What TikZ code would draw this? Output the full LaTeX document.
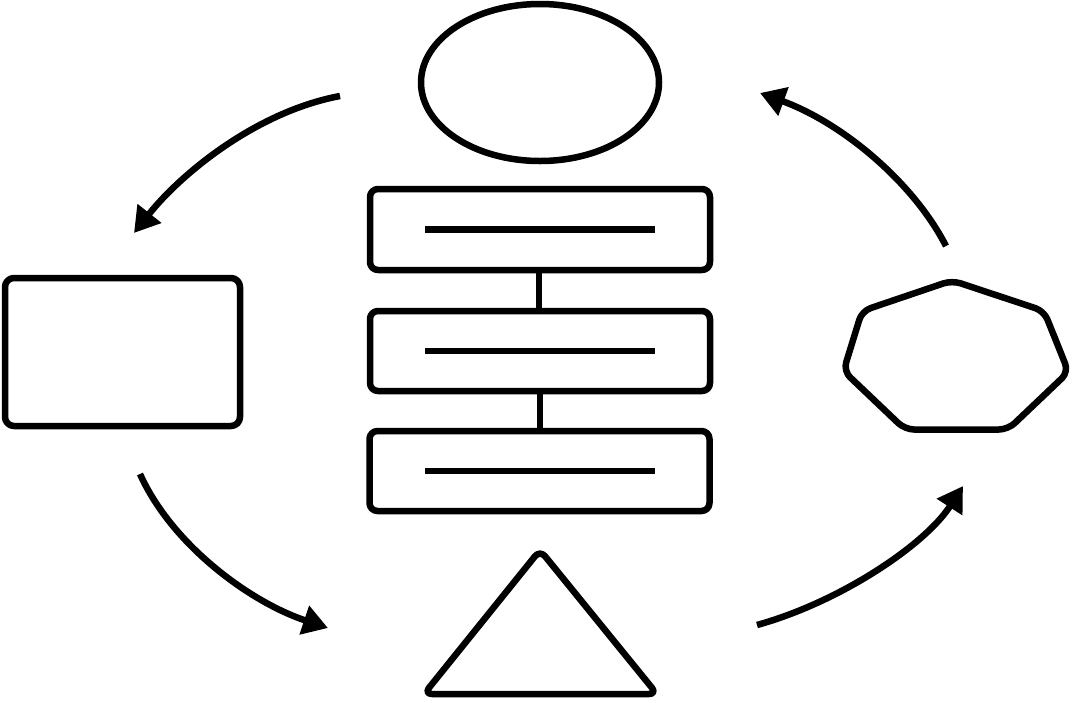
\documentclass[tikz,border=0pt]{standalone}
\usetikzlibrary{arrows.meta,shapes.geometric}
\begin{document}
\begin{tikzpicture}[x=1pt,y=-1pt,
  shp/.style={draw=black,line width=6.5pt,line join=round,inner sep=0pt,outer sep=0pt},
  rbox/.style={shp,rectangle,rounded corners=8pt},
  conn/.style={draw=black,line width=6.5pt},
  flow/.style={draw=black,line width=6.5pt,-{Triangle[length=25pt,width=29pt]}}]
\useasboundingbox (0,0) rectangle (1073,702);
% top ellipse
\node[shp,ellipse,minimum width=238pt,minimum height=157pt] (ell) at (540,82.5) {};
% stacked boxes
\node[rbox,minimum width=340pt,minimum height=81pt] (b1) at (540,229.5) {};
\node[rbox,minimum width=340pt,minimum height=80pt] (b2) at (540,351) {};
\node[rbox,minimum width=340pt,minimum height=80pt] (b3) at (539.5,471) {};
\draw[conn] ([xshift=-115pt]b1.center) -- ([xshift=115pt]b1.center);
\draw[conn] ([xshift=-115pt]b2.center) -- ([xshift=115pt]b2.center);
\draw[conn] ([xshift=-115pt]b3.center) -- ([xshift=115pt]b3.center);
\draw[conn] ([xshift=-1pt]b1.south) -- ([xshift=-1pt]b1.south |- b2.north);
\draw[conn] (b2.south) -- (b2.south |- b3.north);
% left rectangle
\node[shp,rectangle,rounded corners=9pt,minimum width=235pt,minimum height=148pt] (lr) at (122.5,352) {};
% heptagon
\coordinate (h1) at (952,280.5);
\coordinate (h2) at (1044,311);
\coordinate (h3) at (1068.5,372);
\coordinate (h4) at (1008,429.5);
\coordinate (h5) at (905,429.5);
\coordinate (h6) at (843.5,371);
\coordinate (h7) at (862,311);
\draw[shp,rounded corners=9pt] (h1) -- (h2) -- (h3) -- (h4) -- (h5) -- (h6) -- (h7) -- cycle;
% triangle
\coordinate (t1) at (540,550);
\coordinate (t2) at (657,694);
\coordinate (t3) at (424,694);
\draw[shp,rounded corners=8pt] (t1) -- (t2) -- (t3) -- cycle;
% arrows
\coordinate (a1s) at (340,96);  \coordinate (a1e) at (134,233);
\coordinate (a2s) at (140,474); \coordinate (a2e) at (328,628);
\coordinate (a3s) at (757,625); \coordinate (a3e) at (963,486);
\coordinate (a4s) at (946,246); \coordinate (a4e) at (760,93);
\draw[flow] (a1s) .. controls (255,112) and (180,175) .. (a1e);
\draw[flow] (a2s) .. controls (172,545) and (250,602) .. (a2e);
\draw[flow] (a3s) .. controls (840,602) and (925,545) .. (a3e);
\draw[flow] (a4s) .. controls (912,180) and (840,122) .. (a4e);
\end{tikzpicture}
\end{document}
